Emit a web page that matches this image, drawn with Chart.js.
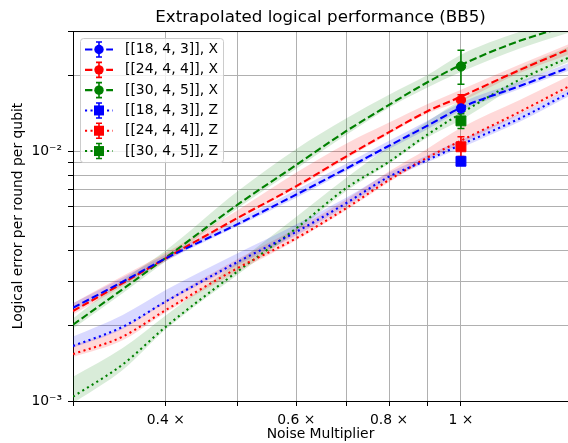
<!DOCTYPE html>
<html>
<head>
<meta charset="utf-8">
<title>Extrapolated logical performance (BB5)</title>
<script src="https://cdn.jsdelivr.net/npm/chart.js@4.4.1/dist/chart.umd.min.js"></script>
<style>
  html, body { margin: 0; padding: 0; background: #fff; overflow: hidden; }
  canvas { display: block; }
</style>
</head>
<body>
<canvas id="chart" width="568" height="443"></canvas>
<script>
// noise multipliers where the fitted curves are sampled
const noiseLevels = [0.3, 0.35, 0.4, 0.5, 0.6, 0.7, 0.8, 0.9, 1.0, 1.2, 1.4];

// X basis fits (dashed) with shaded band
const fitX18 = [0.00236, 0.00300, 0.00372, 0.0051, 0.0067, 0.0085, 0.0105, 0.0126, 0.0149, 0.0182, 0.0216];
const loX18  = [0.00229, 0.00292, 0.00363, 0.0050, 0.0065, 0.0083, 0.0102, 0.0122, 0.0145, 0.0177, 0.0210];
const hiX18  = [0.00246, 0.00312, 0.00385, 0.0053, 0.0070, 0.0089, 0.0110, 0.0132, 0.0156, 0.0190, 0.0225];

const fitX24 = [0.00229, 0.00296, 0.00372, 0.0054, 0.00724, 0.0095, 0.0119, 0.0144, 0.0165, 0.0211, 0.0256];
const loX24  = [0.00222, 0.00288, 0.00362, 0.0053, 0.0071, 0.0093, 0.0117, 0.0141, 0.0158, 0.0205, 0.0244];
const hiX24  = [0.00246, 0.00316, 0.00392, 0.0058, 0.0082, 0.0107, 0.0130, 0.0154, 0.0176, 0.0222, 0.0268];

const fitX30 = [0.00202, 0.0028, 0.00374, 0.0061, 0.0088, 0.0120, 0.0153, 0.0188, 0.0221, 0.0276, 0.0318];
const loX30  = [0.00195, 0.0027, 0.00362, 0.0059, 0.0085, 0.0116, 0.0149, 0.0179, 0.0207, 0.0257, 0.0298];
const hiX30  = [0.00214, 0.00305, 0.0040, 0.0069, 0.0102, 0.0135, 0.0168, 0.0201, 0.0243, 0.0300, 0.0345];

// Z basis fits (dotted) with shaded band
const fitZ18 = [0.00166, 0.00198, 0.0025, 0.0036, 0.00475, 0.00618, 0.0079, 0.0092, 0.0106, 0.0135, 0.0171];
const loZ18  = [0.00163, 0.00194, 0.00247, 0.0035, 0.0046, 0.0060, 0.0077, 0.0090, 0.0103, 0.0131, 0.0166];
const hiZ18  = [0.00181, 0.00221, 0.00278, 0.0039, 0.0051, 0.0065, 0.0082, 0.0096, 0.0111, 0.0141, 0.0177];

const fitZ24 = [0.00154, 0.00181, 0.00231, 0.0034, 0.00448, 0.0059, 0.00766, 0.0094, 0.0110, 0.01435, 0.0182];
const loZ24  = [0.00150, 0.00175, 0.00226, 0.0033, 0.0044, 0.0058, 0.0075, 0.0092, 0.0107, 0.0140, 0.0176];
const hiZ24  = [0.00167, 0.00196, 0.00253, 0.0037, 0.0049, 0.0064, 0.0083, 0.0102, 0.0124, 0.0160, 0.0200];

const fitZ30 = [0.00104, 0.0014, 0.00198, 0.0033, 0.00491, 0.0071, 0.00906, 0.0116, 0.01415, 0.0193, 0.0237];
const loZ30  = [0.00098, 0.00133, 0.00193, 0.0032, 0.00476, 0.0069, 0.0089, 0.0113, 0.0133, 0.0185, 0.0228];
const hiZ30  = [0.00125, 0.00163, 0.0022, 0.0036, 0.00546, 0.0078, 0.0104, 0.0131, 0.0160, 0.0215, 0.0262];

// measured points at 1x noise: [[18,4,3]], [[24,4,4]], [[30,4,5]]
const measuredAt = 1.0;
const measuredX = [0.0148, 0.0160, 0.0218];
const errLoX    = [0.0145, 0.0153, 0.0185];
const errHiX    = [0.0152, 0.0168, 0.0253];
const measuredZ = [0.0091, 0.0104, 0.0132];
const errLoZ    = [0.0090, 0.0095, 0.0123];
const errHiZ    = [0.0092, 0.0114, 0.0141];

const seriesLabels = ['[[18, 4, 3]], X', '[[24, 4, 4]], X', '[[30, 4, 5]], X',
                      '[[18, 4, 3]], Z', '[[24, 4, 4]], Z', '[[30, 4, 5]], Z'];

const xTicks = [0.3, 0.4, 0.5, 0.6, 0.7, 0.8, 0.9, 1.0];
const xTickLabels = ['', '0.4 ×', '', '0.6 ×', '', '0.8 ×', '', '1 ×'];
const yTicks = [0.001, 0.002, 0.003, 0.004, 0.005, 0.006, 0.007, 0.008, 0.009, 0.01, 0.02, 0.03];
const yTickLabels = ['10⁻³', '', '', '', '', '', '', '', '', '10⁻²', '', ''];

// styles
const seriesColors = ['#0000ff', '#ff0000', '#008000', '#0000ff', '#ff0000', '#008000'];
const bandColors = ['rgba(0,0,255,0.15)', 'rgba(255,0,0,0.15)', 'rgba(0,128,0,0.15)',
                    'rgba(0,0,255,0.15)', 'rgba(255,0,0,0.15)', 'rgba(0,128,0,0.15)'];
const dashed = [7.4, 3.2];
const dotted = [2.1, 3.4];
const lineWidth = 2.1;

const fits = [
  {fit: fitX18, lo: loX18, hi: hiX18},
  {fit: fitX24, lo: loX24, hi: hiX24},
  {fit: fitX30, lo: loX30, hi: hiX30},
  {fit: fitZ18, lo: loZ18, hi: hiZ18},
  {fit: fitZ24, lo: loZ24, hi: hiZ24},
  {fit: fitZ30, lo: loZ30, hi: hiZ30}
];
const measured = measuredX.concat(measuredZ);
const errLo = errLoX.concat(errLoZ);
const errHi = errHiX.concat(errHiZ);

const toPoints = arr => arr.map((v, i) => ({x: noiseLevels[i], y: v}));

const datasets = [];
fits.forEach((s, i) => {
  // upper band edge, filled down to the next dataset (lower edge)
  datasets.push({
    data: toPoints(s.hi), borderWidth: 0, pointRadius: 0, fill: '+1',
    backgroundColor: bandColors[i], cubicInterpolationMode: 'monotone', order: 3
  });
  datasets.push({
    data: toPoints(s.lo), borderWidth: 0, pointRadius: 0, fill: false,
    cubicInterpolationMode: 'monotone', order: 3
  });
  datasets.push({
    label: seriesLabels[i], data: toPoints(s.fit), borderColor: seriesColors[i],
    borderWidth: lineWidth, borderDash: i < 3 ? dashed : dotted, pointRadius: 0,
    fill: false, cubicInterpolationMode: 'monotone', order: 2
  });
});
measured.forEach((v, i) => {
  datasets.push({
    data: [{x: measuredAt, y: v}], showLine: false,
    pointStyle: i < 3 ? 'circle' : 'rect', pointRadius: i < 3 ? 4.7 : 7,
    backgroundColor: seriesColors[i], borderColor: seriesColors[i], pointBorderWidth: 1,
    errLo: [errLo[i]], errHi: [errHi[i]], order: 1
  });
});

// error bars drawn under each marker
const errorBars = {
  id: 'errorBars',
  beforeDatasetDraw(chart, args) {
    const ds = chart.data.datasets[args.index];
    if (!ds.errLo) return;
    const {ctx, scales: {x, y}} = chart;
    ctx.save();
    ctx.strokeStyle = ds.borderColor;
    ctx.lineWidth = 1.6;
    ds.data.forEach((p, j) => {
      const px = x.getPixelForValue(p.x);
      const top = y.getPixelForValue(ds.errHi[j]);
      const bot = y.getPixelForValue(ds.errLo[j]);
      ctx.beginPath();
      ctx.moveTo(px, top); ctx.lineTo(px, bot);
      ctx.moveTo(px - 3.5, top); ctx.lineTo(px + 3.5, top);
      ctx.moveTo(px - 3.5, bot); ctx.lineTo(px + 3.5, bot);
      ctx.stroke();
    });
    ctx.restore();
  }
};

// top spine and matplotlib style legend box
const frameAndLegend = {
  id: 'frameAndLegend',
  afterDraw(chart) {
    const ctx = chart.ctx;
    const {left, right, top} = chart.chartArea;
    ctx.save();
    ctx.strokeStyle = '#000';
    ctx.lineWidth = 1;
    ctx.beginPath();
    ctx.moveTo(left, top + 0.5);
    ctx.lineTo(right, top + 0.5);
    ctx.stroke();

    const bx = left + 7.5, by = top + 7.5, bw = 143, bh = 124;
    ctx.fillStyle = 'rgba(255,255,255,0.8)';
    ctx.strokeStyle = '#cccccc';
    ctx.beginPath();
    ctx.roundRect(bx, by, bw, bh, 3);
    ctx.fill();
    ctx.stroke();

    ctx.font = '13.9px "DejaVu Sans"';
    ctx.textBaseline = 'middle';
    seriesLabels.forEach((label, i) => {
      const ry = by + 11 + i * 20.3;
      const mx = bx + 18.5;
      const color = seriesColors[i];
      ctx.strokeStyle = color;
      ctx.lineWidth = lineWidth;
      ctx.setLineDash(i < 3 ? dashed : dotted);
      ctx.beginPath();
      ctx.moveTo(bx + 4.5, ry);
      ctx.lineTo(bx + 32.5, ry);
      ctx.stroke();
      ctx.setLineDash([]);
      ctx.lineWidth = 1.6;
      ctx.beginPath();
      ctx.moveTo(mx, ry - 7.5); ctx.lineTo(mx, ry + 7.5);
      ctx.moveTo(mx - 3, ry - 7.5); ctx.lineTo(mx + 3, ry - 7.5);
      ctx.moveTo(mx - 3, ry + 7.5); ctx.lineTo(mx + 3, ry + 7.5);
      ctx.stroke();
      ctx.fillStyle = color;
      ctx.beginPath();
      if (i < 3) ctx.arc(mx, ry, 4.7, 0, Math.PI * 2);
      else ctx.rect(mx - 5, ry - 5, 10, 10);
      ctx.fill();
      ctx.fillStyle = '#000';
      ctx.fillText(label, bx + 44.5, ry);
    });
    ctx.restore();
  }
};

Chart.defaults.font.family = '"DejaVu Sans"';
Chart.defaults.color = '#000';

new Chart(document.getElementById('chart'), {
  type: 'line',
  data: {datasets},
  plugins: [errorBars, frameAndLegend],
  options: {
    responsive: false,
    animation: false,
    layout: {padding: 0, autoPadding: false},
    plugins: {
      legend: {display: false},
      tooltip: {enabled: false},
      filler: {drawTime: 'beforeDatasetsDraw'},
      title: {
        display: true,
        text: 'Extrapolated logical performance (BB5)',
        font: {size: 16.7, weight: 'normal'},
        color: '#000',
        fullSize: false,
        padding: {top: 8, bottom: 3}
      }
    },
    scales: {
      x: {
        type: 'logarithmic',
        min: 0.3,
        max: 1.394,
        afterBuildTicks: scale => { scale.ticks = xTicks.map(v => ({value: v})); },
        afterFit: scale => { scale.height = 42; },
        ticks: {
          autoSkip: false, maxRotation: 0, padding: 6,
          font: {size: 13.9},
          callback: (v, i) => xTickLabels[i]
        },
        grid: {color: '#b0b0b0', lineWidth: 1, tickColor: '#000', tickLength: 5},
        border: {color: '#000', width: 1},
        title: {display: true, text: 'Noise Multiplier', font: {size: 13.9}, padding: {top: 0, bottom: 0}}
      },
      y: {
        type: 'logarithmic',
        min: 0.001,
        max: 0.0302,
        afterBuildTicks: scale => { scale.ticks = yTicks.map(v => ({value: v})); },
        afterFit: scale => { scale.width = 73; },
        ticks: {
          autoSkip: false, padding: 6,
          font: {size: 13.9},
          callback: (v, i) => yTickLabels[i]
        },
        grid: {color: '#b0b0b0', lineWidth: 1, tickColor: '#000', tickLength: 5},
        border: {color: '#000', width: 1},
        title: {display: true, text: 'Logical error per round per qubit', font: {size: 13.9}, padding: {top: 10, bottom: 0}}
      }
    }
  }
});
</script>
</body>
</html>
